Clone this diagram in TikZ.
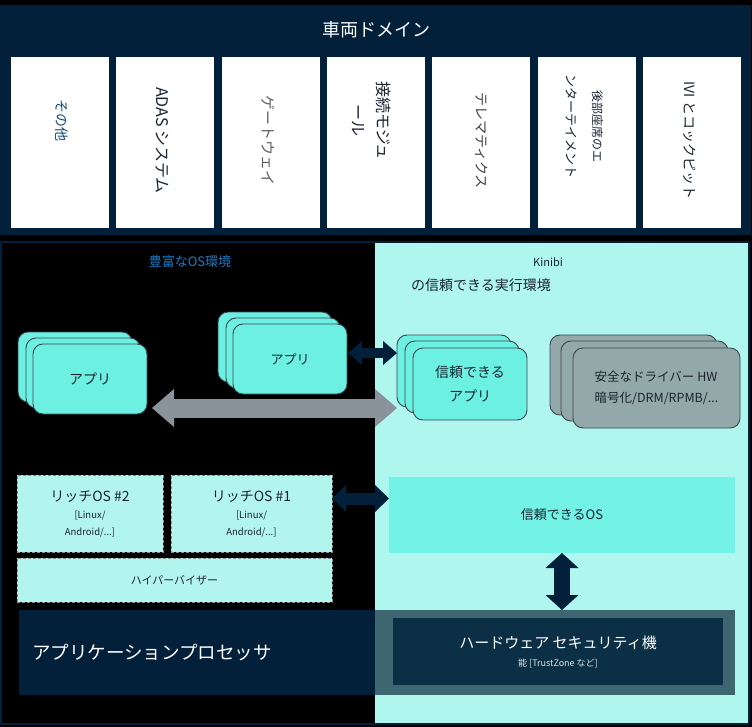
\documentclass[tikz,border=0pt]{standalone}
\usepackage{fontspec}
\setmainfont{Noto Sans CJK JP}
\usetikzlibrary{arrows.meta,positioning,calc}

\definecolor{navy}{RGB}{3,32,58}
\definecolor{teebg}{RGB}{175,246,239}
\definecolor{appfill}{RGB}{108,240,226}
\definecolor{osfill}{RGB}{114,243,229}
\definecolor{richfill}{RGB}{178,245,238}
\definecolor{drvfill}{RGB}{147,168,169}
\definecolor{slate}{RGB}{62,102,112}
\definecolor{hwfill}{RGB}{11,47,69}
\definecolor{arrowgrey}{RGB}{138,147,154}
\definecolor{richblue}{RGB}{30,123,196}
\definecolor{inkdark}{RGB}{26,36,48}

\newcommand\fsz[2]{\fontsize{#1}{#2}\selectfont}

\tikzset{
  box/.style={anchor=north west, inner sep=0pt, outer sep=0pt},
  card/.style={box, fill=white, minimum width=98, minimum height=171},
  vtext/.style={rotate=-90, align=center, text=inkdark},
  appcard/.style={box, draw=inkdark!85, fill=appfill, rounded corners=10pt,
    line width=0.9pt, minimum width=114, minimum height=70, align=center},
  drvcard/.style={appcard, fill=drvfill, minimum width=167, minimum height=80},
  richbox/.style={box, draw=black!45, dash pattern=on 3pt off 2pt,
    fill=richfill, line width=1pt, align=center},
  dblarrow/.style args={#1/#2/#3}{line width=#1,
    arrows={Triangle[width=#2,length=#3,line width=0pt]-Triangle[width=#2,length=#3,line width=0pt]}}
}

\begin{document}
\begin{tikzpicture}[x=1pt, y=-1pt, font=\fsz{13}{16}, line join=round]
\useasboundingbox (0,0) rectangle (752,727);
\fill[black] (0,0) rectangle (752,727);

\node[box, fill=navy, minimum width=751, minimum height=230] (vdom) at (0,5) {};
\node[text=white, font=\fsz{18}{22}] (vtitle) at (376,30) {車両ドメイン};
\foreach \i in {0,...,6}
  \node[card] (c\i) at ({11+105.33*\i},57) {};
\node[vtext, text=richblue!60!black, font=\fsz{14}{17}] (t0) at ($(c0.center)+(2,-22)$) {その他};
\node[vtext, font=\fsz{16}{19}] (t1) at ($(c1.center)+(-3,-2)$) {ADAS システム};
\node[vtext, text=black!62, font=\fsz{15}{18}] (t2) at ($(c2.center)+(-2,-2)$) {ゲートウェイ};
\node[vtext, font=\fsz{16}{25}] (t3) at ($(c3.center)+(-4,-22)$) {接続モジュ\\ール};
\node[vtext, text=black!75, font=\fsz{14}{17}] (t4) at ($(c4.center)+(0,-2)$) {テレマティクス};
\node[vtext, font=\fsz{13}{26}] (t5) at ($(c5.center)+(-2,-16)$) {{\fsz{12}{26}後部座席のエ}\\ンターテイメント};
\node[vtext, font=\fsz{14}{17}] (t6) at ($(c6.center)+(-2,-2)$) {IVI とコックピット};

\fill[teebg] (375,242) rectangle (749,724);
\node[box, draw=navy, line width=2pt, minimum width=748, minimum height=482] (low) at (1,242) {};
\path (375,242) coordinate (split);

\node[text=richblue] (reetitle) at (190,262) {豊富なOS環境};
\node[text=inkdark, font=\fsz{11}{14}] (kinibi) at (548,262) {Kinibi};
\node[text=inkdark, font=\fsz{14}{17}] (teetitle) at (481,285) {の信頼できる実行環境};

\foreach \n/\x/\y in {a0/18/332, a1/26/338, b0/218/312, b1/226/318}
  \node[appcard] (\n) at (\x,\y) {};
\node[appcard, text=inkdark, font=\fsz{14}{17}] (appA) at (33,344) {アプリ};
\node[appcard, text=inkdark] (appB) at (233,324) {アプリ};

\foreach \n/\x/\y in {s0/397/335, s1/405/341}
  \node[appcard, minimum height=72] (\n) at (\x,\y) {};
\node[appcard, minimum height=72, text=inkdark, font=\fsz{14}{24}] (tapp) at (413,348) {信頼できる\\アプリ};

\foreach \n/\x/\y in {d0/550/335, d1/561/341}
  \node[drvcard] (\n) at (\x,\y) {};
\node[drvcard, align=left, text=inkdark, font=\fsz{12.5}{21}] (drv) at (573,348) {安全なドライバー HW\\暗号化/DRM/RPMB/...};

\node[richbox, minimum width=146, minimum height=77, text=inkdark, font=\fsz{9.5}{17}] (rich2) at (17,475)
  {{\fsz{14}{17}リッチOS \#2}\\{[Linux/}\\Android/...]};
\node[richbox, minimum width=161, minimum height=77, text=inkdark, font=\fsz{9.5}{17}] (rich1) at (171,475)
  {{\fsz{14}{17}リッチOS \#1}\\{[Linux/}\\Android/...]};
\node[richbox, minimum width=315, minimum height=44, text=inkdark, font=\fsz{11}{14}] (hyp) at (17,558) {ハイパーバイザー};

\node[box, fill=osfill, minimum width=346, minimum height=76, text=inkdark] (tos) at (389,477) {信頼できるOS};

\node[box, fill=navy, minimum width=716, minimum height=85, text width=690, inner xsep=13pt,
  align=left, text=white, font=\fsz{18.5}{22}] (apbar) at (19,610) {アプリケーションプロセッサ};
\fill[slate] (apbar.north -| split) rectangle (apbar.south east);
\node[box, fill=hwfill, minimum width=330, minimum height=67, align=center, text=white, font=\fsz{15}{18}] (hw) at (393,618)
  {ハードウェア セキュリティ機\\{\fsz{9}{18}\color{white!82!slate}能 [TrustZone など]}};

\coordinate (nA) at ($(appB.east)+(1,-6)$);
\coordinate (gA) at ($(appA.south east)+(5,-6)$);
\coordinate (mA) at ($(rich1.east)+(0,-15)$);
\draw[navy, dblarrow=10pt/24pt/14pt] (nA) -- (nA -| s0.west);
\draw[arrowgrey, dblarrow=19pt/38pt/22pt] (gA) -- (gA -| s0.west);
\draw[navy, dblarrow=12pt/27pt/14pt] (mA) -- (mA -| tos.west);
\draw[navy, dblarrow=16pt/33pt/15pt] (tos.south) -- (tos.south |- apbar.north);
\end{tikzpicture}
\end{document}
